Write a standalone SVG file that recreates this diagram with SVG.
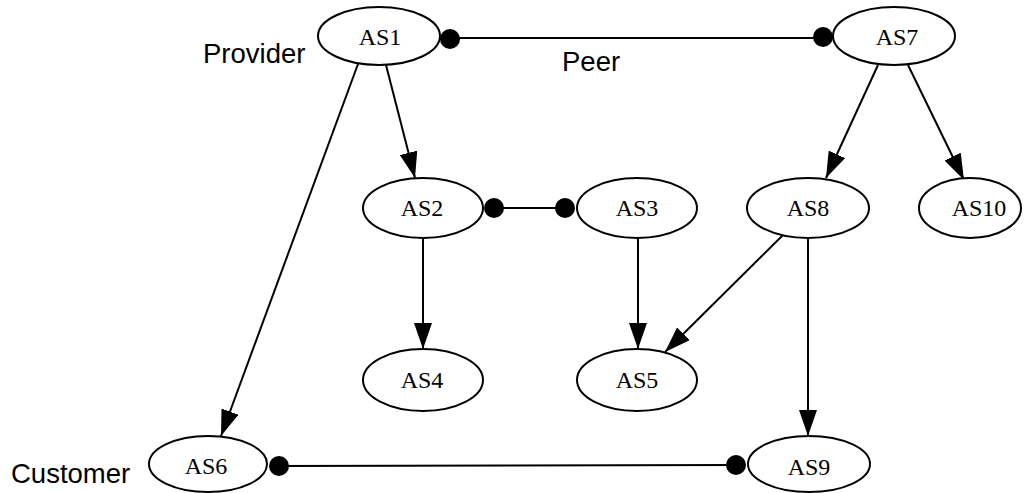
<svg xmlns="http://www.w3.org/2000/svg" width="1027" height="493" viewBox="0 0 1027 493">
<style>
.node ellipse{fill:#fff;stroke:#000;stroke-width:2}
.node text{font-family:"Liberation Serif","DejaVu Serif",serif;font-size:24px;fill:#000;text-anchor:middle}
.lbl{font-family:"Liberation Sans",Arial,sans-serif;font-size:27.5px;fill:#000}
.edge{stroke:#000;stroke-width:2;fill:none}
.dot{fill:#000}
</style>
<defs>
<marker id="arr" markerUnits="userSpaceOnUse" viewBox="0 0 26 18" refX="26" refY="9" markerWidth="26" markerHeight="18" orient="auto">
<path d="M0,0 L26,9 L0,18 z" fill="#000"/>
</marker>
</defs>
<g id="connectors">
<line class="edge" x1="450" y1="38" x2="823" y2="38"/>
<circle class="dot" cx="450" cy="39" r="10"/>
<circle class="dot" cx="823" cy="37" r="10"/>
<line class="edge" x1="494" y1="208" x2="565" y2="208"/>
<circle class="dot" cx="494" cy="208" r="10"/>
<circle class="dot" cx="565" cy="208" r="10"/>
<line class="edge" x1="279" y1="466" x2="736" y2="465"/>
<circle class="dot" cx="279" cy="466" r="10"/>
<circle class="dot" cx="736" cy="465" r="10"/>
<line class="edge" x1="386" y1="65" x2="415" y2="178" marker-end="url(#arr)"/>
<line class="edge" x1="358" y1="64" x2="221" y2="436" marker-end="url(#arr)"/>
<line class="edge" x1="878" y1="65" x2="826" y2="178" marker-end="url(#arr)"/>
<line class="edge" x1="908" y1="65" x2="964" y2="180" marker-end="url(#arr)"/>
<line class="edge" x1="423" y1="238" x2="423" y2="349" marker-end="url(#arr)"/>
<line class="edge" x1="638" y1="238" x2="638" y2="349" marker-end="url(#arr)"/>
<line class="edge" x1="783" y1="235" x2="665" y2="352" marker-end="url(#arr)"/>
<line class="edge" x1="808" y1="238" x2="808" y2="436" marker-end="url(#arr)"/>
</g>
<g id="AS1" class="node"><ellipse cx="379" cy="36" rx="61" ry="29"/><text x="380" y="45">AS1</text></g>
<g id="AS7" class="node"><ellipse cx="894" cy="36" rx="61" ry="29"/><text x="897" y="45">AS7</text></g>
<g id="AS2" class="node"><ellipse cx="423" cy="208" rx="60" ry="30"/><text x="422" y="216">AS2</text></g>
<g id="AS3" class="node"><ellipse cx="637" cy="208" rx="60" ry="30"/><text x="637" y="216">AS3</text></g>
<g id="AS8" class="node"><ellipse cx="808" cy="208" rx="61" ry="30"/><text x="808" y="216">AS8</text></g>
<g id="AS10" class="node"><ellipse cx="970" cy="208" rx="51" ry="30"/><text x="979" y="216">AS10</text></g>
<g id="AS4" class="node"><ellipse cx="423" cy="380" rx="60" ry="31"/><text x="422" y="388">AS4</text></g>
<g id="AS5" class="node"><ellipse cx="637" cy="380" rx="60" ry="31"/><text x="637" y="388">AS5</text></g>
<g id="AS6" class="node"><ellipse cx="208" cy="464" rx="59" ry="28"/><text x="206" y="474">AS6</text></g>
<g id="AS9" class="node"><ellipse cx="809" cy="464" rx="61" ry="28"/><text x="809" y="475">AS9</text></g>
<text class="lbl" x="203" y="63">Provider</text>
<text class="lbl" x="562" y="71">Peer</text>
<text class="lbl" x="11" y="483">Customer</text>
</svg>
